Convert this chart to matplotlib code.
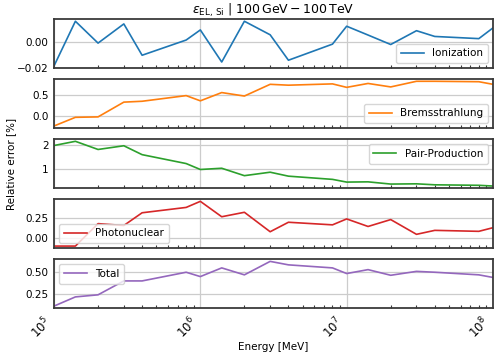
import numpy as np
import matplotlib
matplotlib.use("Agg")
import matplotlib.pyplot as plt

energy = [1e5, 1.4e5, 2e5, 3e5, 4e5, 8e5,
          1e6, 1.4e6, 2e6, 3e6, 4e6, 8e6,
          1e7, 1.4e7, 2e7, 3e7, 4e7, 8e7, 1e8]

ionization = [-0.0184, 0.0166, -0.0005, 0.0145, -0.0100, 0.0019,
              0.0098, -0.0153, 0.0166, 0.0060, -0.0139, -0.0013,
              0.0127, 0.0058, -0.0016, 0.0092, 0.0047, 0.0030, 0.0114]
bremsstrahlung = [-0.22, -0.02, -0.01, 0.33, 0.35, 0.48,
                  0.36, 0.55, 0.47, 0.74, 0.72, 0.75,
                  0.67, 0.76, 0.68, 0.81, 0.81, 0.80, 0.74]
pair_production = [1.97, 2.14, 1.81, 1.96, 1.60, 1.24,
                   1.00, 1.05, 0.75, 0.89, 0.73, 0.60,
                   0.49, 0.50, 0.41, 0.42, 0.38, 0.36, 0.33]
photonuclear = [-0.097, -0.097, 0.18, 0.157, 0.314, 0.38,
                0.455, 0.265, 0.32, 0.08, 0.197, 0.165,
                0.238, 0.145, 0.23, 0.048, 0.097, 0.085, 0.13]
total = [0.11, 0.216, 0.24, 0.40, 0.40, 0.50,
         0.45, 0.55, 0.47, 0.625, 0.585, 0.55,
         0.485, 0.53, 0.465, 0.51, 0.50, 0.47, 0.44]

series = [
    ("Ionization", ionization, "#1f77b4", "lower right", [-0.02, 0.0], "{:.2f}"),
    ("Bremsstrahlung", bremsstrahlung, "#ff7f0e", "lower right", [0.0, 0.5], "{:.1f}"),
    ("Pair-Production", pair_production, "#2ca02c", "upper right", [1, 2], "{:.0f}"),
    ("Photonuclear", photonuclear, "#d62728", "lower left", [0.0, 0.25], "{:.2f}"),
    ("Total", total, "#9467bd", "upper left", [0.25, 0.5], "{:.2f}"),
]

plt.rcParams['font.family'] = ['DejaVu Sans']
fig, axes = plt.subplots(5, 1, sharex=True, figsize=(5.0, 3.52), dpi=100)
fig.subplots_adjust(left=0.108, right=0.986, top=0.946, bottom=0.124, hspace=0.22)

for ax, (name, vals, color, loc, yt, fmt) in zip(axes, series):
    ax.plot(energy, vals, color=color, lw=1.2, label=name)
    ax.set_xscale('log')
    ax.set_xlim(1e5, 1e8)
    ax.set_yticks(yt)
    ax.set_yticklabels([fmt.format(v).replace('-', '\u2212') for v in yt])
    ax.grid(True, which='major', color='#cccccc', lw=0.9)
    ax.set_axisbelow(True)
    for s in ax.spines.values():
        s.set_color('#3a3a3a')
        s.set_linewidth(1.3)
    ax.tick_params(axis='both', which='both', direction='in', labelsize=7.5, color='#3a3a3a')
    ax.tick_params(axis='y', length=0, pad=4)
    ax.tick_params(axis='x', which='major', length=0, labelsize=8.5, pad=4)
    ax.tick_params(axis='x', which='minor', length=2.5, width=0.8)
    ax.legend(loc=loc, fontsize=7.5, handlelength=2.2, borderpad=0.45)

for lbl in axes[-1].get_xticklabels():
    lbl.set_rotation(45)
    lbl.set_ha('right')

axes[0].set_title(r"$\varepsilon_{\mathrm{EL,\,Si}}$ | $100\,\mathrm{GeV} - 100\,\mathrm{TeV}$", fontsize=9, pad=3)
fig.text(0.022, 0.535, "Relative error [%]", rotation=90, va='center', ha='center', fontsize=7.5)
axes[-1].set_xlabel("Energy [MeV]", fontsize=7.5, labelpad=1)

fig.savefig("out.png", dpi=100)
